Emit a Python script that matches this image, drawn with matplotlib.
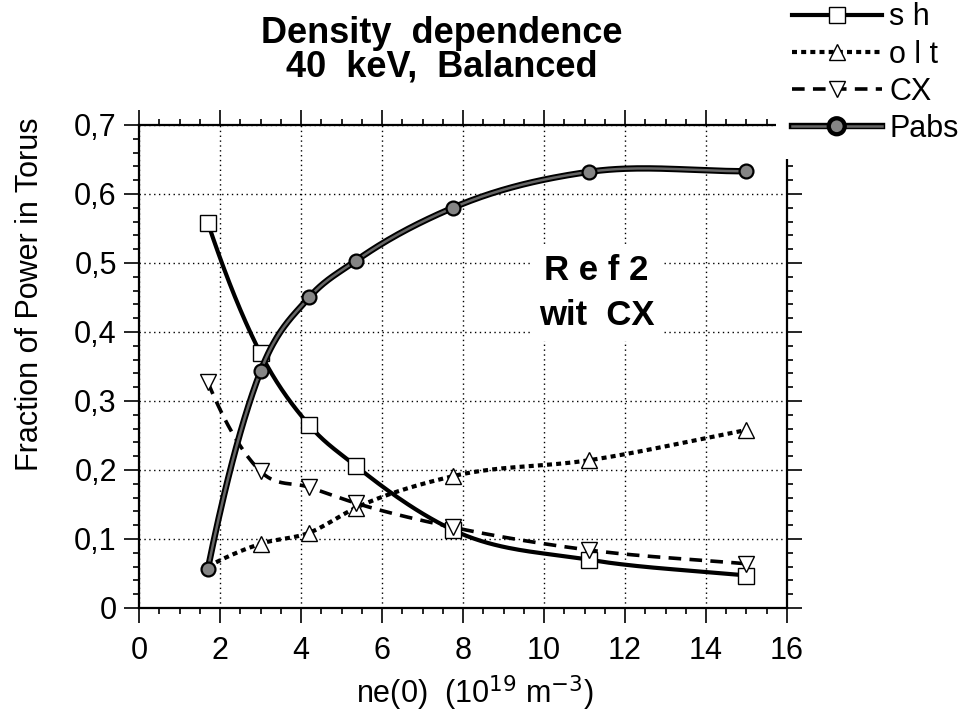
import numpy as np
import matplotlib.pyplot as plt
import matplotlib.patheffects as pe
from matplotlib.lines import Line2D
from matplotlib.ticker import MultipleLocator, FixedLocator, FixedFormatter

plt.rcParams['font.family'] = ['Liberation Sans', 'DejaVu Sans']

# central density ne(0) in 1e19 m^-3
ne = [1.7, 3.0, 4.2, 5.35, 7.75, 11.1, 15.0]
# fraction of beam power
sh = [0.558, 0.369, 0.265, 0.206, 0.113, 0.070, 0.047]
olt = [0.060, 0.093, 0.109, 0.145, 0.191, 0.214, 0.258]
cx = [0.327, 0.198, 0.175, 0.152, 0.117, 0.084, 0.064]
pabs = [0.057, 0.343, 0.450, 0.503, 0.580, 0.632, 0.633]

xticks = [0, 2, 4, 6, 8, 10, 12, 14, 16]
yticks = [0, 0.1, 0.2, 0.3, 0.4, 0.5, 0.6, 0.7]
ytick_labels = ['0', '0,1', '0,2', '0,3', '0,4', '0,5', '0,6', '0,7']


def smooth(x, y, n=40):
    # cubic Hermite curve through the points, slopes from local parabolas
    x = np.asarray(x, float)
    y = np.asarray(y, float)
    h = np.diff(x)
    d = np.diff(y) / h
    m = np.empty_like(y)
    m[1:-1] = (h[1:] * d[:-1] + h[:-1] * d[1:]) / (h[:-1] + h[1:])
    m[0] = d[0] + (d[0] - d[1]) * h[0] / (h[0] + h[1])
    m[-1] = d[-1]
    xs, ys = [], []
    t = np.linspace(0, 1, n)
    h00 = 2 * t**3 - 3 * t**2 + 1
    h10 = t**3 - 2 * t**2 + t
    h01 = -2 * t**3 + 3 * t**2
    h11 = t**3 - t**2
    for i in range(len(x) - 1):
        ys.append(h00 * y[i] + h10 * h[i] * m[i] + h01 * y[i + 1] + h11 * h[i] * m[i + 1])
        xs.append(x[i] + t * h[i])
    return np.concatenate(xs), np.concatenate(ys)


fig = plt.figure(figsize=(9.71, 7.15), dpi=100)
ax = fig.add_axes([0.1432, 0.1497, 0.8105 - 0.1432, 0.8252 - 0.1497])

pabs_edge = [pe.Stroke(linewidth=4.6, foreground='black'), pe.Normal()]
styles = {
    'sh': dict(color='black', lw=3.0, ls='-'),
    'olt': dict(color='black', lw=3.0, ls=(0, (1.2, 1.0))),
    'cx': dict(color='black', lw=2.6, ls=(0, (3.5, 2.3))),
    'pabs': dict(color='#666666', lw=1.8, ls='-'),
}
marks = {
    'sh': dict(marker='s', ms=11, mfc='white', mec='black', mew=1.0),
    'olt': dict(marker='^', ms=12, mfc='white', mec='black', mew=1.0),
    'cx': dict(marker='v', ms=12, mfc='white', mec='black', mew=1.0),
    'pabs': dict(marker='o', ms=10, mfc='#858585', mec='black', mew=1.6),
}

for key, vals, z in [('sh', sh, 3), ('olt', olt, 3), ('cx', cx, 3), ('pabs', pabs, 4)]:
    xs, ys = smooth(ne, vals)
    line, = ax.plot(xs, ys, zorder=z, **styles[key])
    if key == 'pabs':
        line.set_path_effects(pabs_edge)
    every = slice(1, None) if key == 'olt' else None
    ax.plot(ne, vals, ls='none', zorder=z + 1, markevery=every, **marks[key])

ax.set_xlim(0, 16)
ax.set_ylim(0, 0.7)
ax.xaxis.set_major_locator(FixedLocator(xticks))
ax.xaxis.set_minor_locator(MultipleLocator(0.5))
ax.yaxis.set_major_locator(FixedLocator(yticks))
ax.yaxis.set_major_formatter(FixedFormatter(ytick_labels))
ax.yaxis.set_minor_locator(MultipleLocator(0.02))
ax.grid(True, which='major', color='black', lw=1.0, ls=(0, (1, 2.5)))

ax.tick_params(which='both', direction='out', top=True, right=True, width=1.2)
ax.tick_params(which='major', length=11, labelsize=22)
ax.tick_params(which='minor', length=4)
ax.tick_params(axis='y', pad=5)
ax.tick_params(axis='x', pad=9)
for s in ax.spines.values():
    s.set_linewidth(1.6)

ax.text(11.3, 0.456, 'R e f 2\nwit  CX', ha='center', va='center',
        fontsize=25, fontweight='bold', linespacing=1.45, zorder=6,
        bbox=dict(facecolor='white', edgecolor='none', pad=6))

fig.text(0.455, 0.930, 'Density  dependence\n40  keV,  Balanced', ha='center',
         va='center', fontsize=26, fontweight='bold', linespacing=0.93)
fig.text(0.031, 0.589, 'Fraction of Power in Torus', rotation=90,
         ha='center', va='center', fontsize=22)
fig.text(0.489, 0.031, r'ne(0)  (10$^{19}$ m$^{-3}$)', ha='center',
         va='center', fontsize=22)

handles = []
for key in ['sh', 'olt', 'cx', 'pabs']:
    h = Line2D([], [], **styles[key], **marks[key])
    if key == 'pabs':
        h.set_path_effects(pabs_edge)
    handles.append(h)
leg = fig.legend(handles, ['s h', 'o l t', 'CX', 'Pabs'], loc='upper right',
                 bbox_to_anchor=(1.0032, 1.018), fontsize=22, handlelength=2.95,
                 handletextpad=0.25, labelspacing=0.235, borderpad=0.5,
                 borderaxespad=0.0, frameon=True, facecolor='white',
                 edgecolor='none', framealpha=1.0, fancybox=False)
leg.set_zorder(10)

fig.savefig('out.png', dpi=100)
